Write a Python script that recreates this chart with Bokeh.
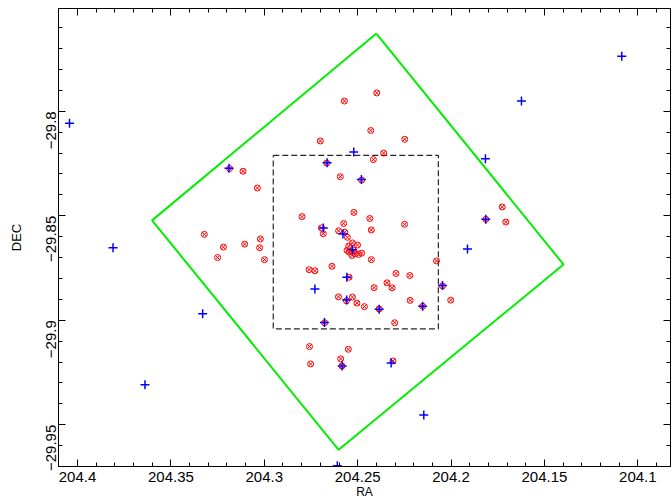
import math
from bokeh.plotting import figure
from bokeh.models import Range1d, LinearAxis, FixedTicker, CustomJSTickFormatter, CustomLabelingPolicy
from bokeh.embed import file_html
from bokeh.resources import INLINE

# ---- data (RA, DEC in degrees) ----
red_ra = [204.2700, 204.3186, 204.3114, 204.3037, 204.2666, 204.2571, 204.2398, 204.2430, 204.2248, 204.2361,
          204.2416, 204.2593, 204.2479, 204.2798, 204.2520, 204.2435, 204.2249, 204.2575, 204.2427, 204.2694,
          204.2684, 204.2602, 204.2569, 204.2555, 204.3021, 204.3105, 204.3025, 204.3321, 204.3219, 204.3250,
          204.2999, 204.2760, 204.2729, 204.2638, 204.2528, 204.2501, 204.2548, 204.2557, 204.2545, 204.2521,
          204.2512, 204.2495, 204.2479, 204.2530, 204.2427, 204.2078, 204.2295, 204.2221, 204.2546, 204.2343,
          204.2412, 204.2316, 204.2046, 204.2603, 204.2528, 204.2560, 204.2504, 204.2464, 204.2385, 204.2219,
          204.2152, 204.2677, 204.2302, 204.2758, 204.2550, 204.2591, 204.2752, 204.2584, 204.2311, 204.1726,
          204.1707, 204.1814, 204.2002]
red_dec = [-29.8142, -29.8274, -29.8287, -29.8367, -29.8248, -29.7951, -29.7912, -29.8092, -29.8134, -29.8200,
           -29.8231, -29.8313, -29.8329, -29.8504, -29.8484, -29.8513, -29.8541, -29.8537, -29.8568, -29.8558,
           -29.8586, -29.8572, -29.8579, -29.8603, -29.8611, -29.8636, -29.8653, -29.8589, -29.8650, -29.8700,
           -29.8710, -29.8758, -29.8763, -29.8742, -29.8630, -29.8640, -29.8645, -29.8666, -29.8674, -29.8666,
           -29.8682, -29.8685, -29.8679, -29.8690, -29.8710, -29.8716, -29.8776, -29.8786, -29.8794, -29.8821,
           -29.8844, -29.8845, -29.8836, -29.8888, -29.8889, -29.8907, -29.8918, -29.8935, -29.8946, -29.8905,
           -29.8933, -29.9012, -29.9012, -29.9126, -29.9139, -29.9185, -29.9209, -29.9219, -29.9195, -29.8458,
           -29.8530, -29.8517, -29.8904]

blue_ra = [204.1086, 204.1623, 204.4043, 204.1816, 204.1814, 204.1912, 204.3810, 204.3330, 204.3639, 204.3189,
           204.2521, 204.2664, 204.2480, 204.2684, 204.2579, 204.2528, 204.2558, 204.2729, 204.2559, 204.2385,
           204.2152, 204.2046, 204.2678, 204.2583, 204.2321, 204.2146, 204.2609]
blue_dec = [-29.7737, -29.7951, -29.8057, -29.8227, -29.8517, -29.8659, -29.8653, -29.8969, -29.9309, -29.8272,
            -29.8195, -29.8246, -29.8327, -29.8559, -29.8587, -29.8663, -29.8794, -29.8850, -29.8903, -29.8947,
            -29.8933, -29.8834, -29.9011, -29.9219, -29.9205, -29.9453, -29.9696]

footprint_ra = [204.2400, 204.1398, 204.2602, 204.3601, 204.2400]
footprint_dec = [-29.7628, -29.8733, -29.9620, -29.8522, -29.7628]

box_ra = [204.2952, 204.2068, 204.2068, 204.2952, 204.2952]
box_dec = [-29.8211, -29.8211, -29.9041, -29.9041, -29.8211]

ra_ticks = [204.4, 204.35, 204.3, 204.25, 204.2, 204.15, 204.1]
dec_ticks = [-29.8, -29.85, -29.9, -29.95]
ra_minor = [round(204.08 + 0.01 * i, 2) for i in range(34)]
dec_minor = [round(-29.98 + 0.01 * i, 2) for i in range(24)]

FONT = "Liberation Sans"

p = figure(width=672, height=502,
           x_range=Range1d(204.4102, 204.0825), y_range=Range1d(-29.9700, -29.7508),
           output_backend="svg", toolbar_location=None,
           x_axis_label="RA", y_axis_label="DEC",
           min_border_left=58, min_border_right=2, min_border_top=8, min_border_bottom=36)
p.xgrid.visible = False
p.ygrid.visible = False
p.outline_line_color = "black"
p.outline_line_width = 1
p.background_fill_color = "white"
p.border_fill_color = "white"

fmt = CustomJSTickFormatter(code="""
var s = tick.toFixed(2);
if (s.slice(-1) === '0') { s = s.slice(0, -1); }
return s.replace('-', '\\u2212');
""")

xt = FixedTicker(ticks=ra_ticks, minor_ticks=ra_minor)
yt = FixedTicker(ticks=dec_ticks, minor_ticks=dec_minor)

def style_axis(ax):
    ax.major_tick_in = 7
    ax.major_tick_out = 0
    ax.minor_tick_in = 4
    ax.minor_tick_out = 0
    ax.axis_line_color = "black"
    ax.major_tick_line_color = "black"
    ax.minor_tick_line_color = "black"
    ax.major_label_text_font = FONT
    ax.major_label_text_font_size = "15px"
    ax.major_label_text_color = "black"
    ax.axis_label_text_font = FONT
    ax.axis_label_text_font_size = "12px"
    ax.axis_label_text_font_style = "normal"
    ax.axis_label_text_color = "black"

xa = p.xaxis[0]
ya = p.yaxis[0]
xa.ticker = xt
ya.ticker = yt
xa.formatter = fmt
ya.formatter = fmt
style_axis(xa)
style_axis(ya)
ya.axis_label_text_font_size = "13px"
xa.major_label_standoff = 5
xa.axis_label_standoff = 0
ya.major_label_orientation = math.pi / 2
ya.major_label_standoff = 7
ya.axis_label_standoff = 15

no_labels = CustomLabelingPolicy(code="return []")
top = LinearAxis(ticker=xt, formatter=fmt, major_label_policy=no_labels)
right = LinearAxis(ticker=yt, formatter=fmt, major_label_policy=no_labels)
for ax in (top, right):
    style_axis(ax)
    ax.major_label_text_font_size = "0px"
    ax.major_label_standoff = 0
p.add_layout(top, "above")
p.add_layout(right, "right")

p.line(footprint_ra, footprint_dec, line_color="#00ee00", line_width=2)
p.line(box_ra, box_dec, line_color="black", line_width=1.2, line_dash="6 3", line_alpha=0.85)
p.scatter(red_ra, red_dec, marker="circle_x", size=6, line_color="red", fill_color=None, line_width=1)
p.scatter(blue_ra, blue_dec, marker="cross", size=9, line_color="blue", line_width=1.5)

open("out.html", "w").write(file_html(p, INLINE))
